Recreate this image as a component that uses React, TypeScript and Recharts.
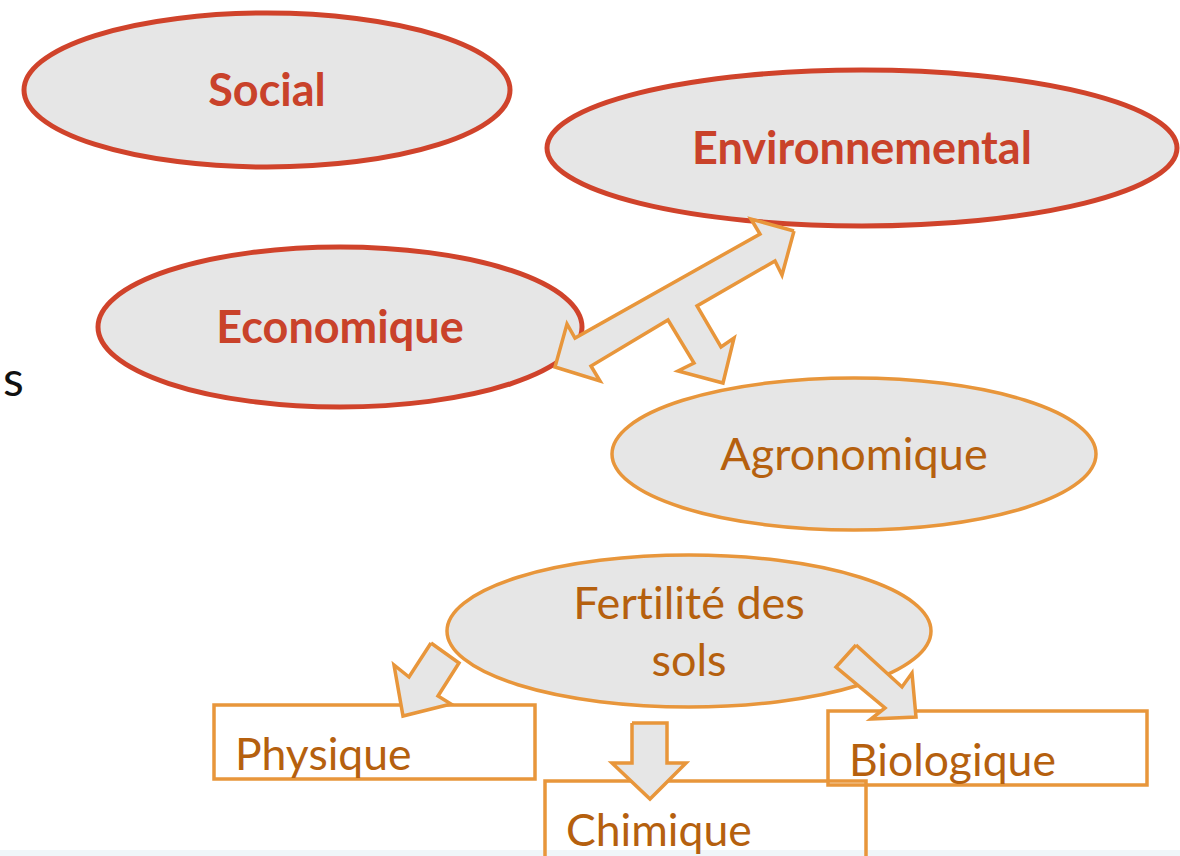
import React from "react";
import { ScatterChart, Scatter, XAxis, YAxis, ReferenceArea } from "recharts";

const W = 1180;
const H = 856;

// oval nodes: centre and half-axes, in page pixels
const ovalLabels = ["Social", "Environnemental", "Economique", "Agronomique", "Fertilité des|sols"];
const ovalX = [267, 862, 340, 854, 689];
const ovalY = [90, 148, 327, 454, 631];
const ovalRx = [243, 315, 242, 242, 242];
const ovalRy = [77, 78, 80, 76, 76];
const ovalLevel = ["pillar", "pillar", "pillar", "sub", "sub"];

// rectangular boxes
const boxLabels = ["Physique", "Chimique", "Biologique"];
const boxLeft = [214, 545, 828];
const boxTop = [705, 781, 711];
const boxRight = [535, 866, 1147];
const boxBottom = [779, 861, 785];

// block arrows, vertex lists (closed)
const tArrowX = [794, 782, 775, 697, 721, 734, 723, 678, 694, 668, 591, 600, 555, 567, 575, 760, 751, 794];
const tArrowY = [231, 275, 261, 306, 347, 338, 383, 371, 363, 320, 366, 381, 367, 324, 338, 234, 219, 231];
const physArrowX = [431, 459, 438, 451, 403, 394, 409, 431];
const physArrowY = [643, 663, 696, 704, 716, 665, 677, 643];
const chimArrowX = [632, 667, 667, 686, 650, 612, 632, 632];
const chimArrowY = [723, 723, 763, 763, 799, 763, 763, 723];
const bioArrowX = [856, 902, 912, 916, 871, 885, 836, 856];
const bioArrowY = [645, 687, 673, 717, 719, 708, 667, 645];

// text fragment cut at the left edge of the slide
const strayLabels = ["s"];
const strayX = [3];
const strayY = [396];

const RED = "#d0432b";
const RED_TEXT = "#c9422a";
const ORANGE = "#e8963b";
const ORANGE_TEXT = "#b5600e";
const GREY = "#e6e6e6";
const FONT = "Lato, 'Open Sans', sans-serif";
const noLig = { fontVariantLigatures: "none" as const, fontFeatureSettings: '"liga" 0, "clig" 0' };

const ovals = ovalLabels.map((label, i) => ({
  label,
  x: ovalX[i],
  y: ovalY[i],
  rx: ovalRx[i],
  ry: ovalRy[i],
  level: ovalLevel[i],
}));

const boxes = boxLabels.map((label, i) => ({ label, x: boxLeft[i], y: boxTop[i] }));

const toPoints = (xs: number[], ys: number[]) => xs.map((x, i) => ({ x, y: ys[i] }));
const arrows = [
  toPoints(tArrowX, tArrowY),
  toPoints(physArrowX, physArrowY),
  toPoints(chimArrowX, chimArrowY),
  toPoints(bioArrowX, bioArrowY),
];

const strays = strayLabels.map((label, i) => ({ label, x: strayX[i], y: strayY[i] }));

function OvalShape(props: any) {
  const { cx, cy, payload } = props;
  const pillar = payload.level === "pillar";
  const lines: string[] = payload.label.split("|");
  const first = lines.length > 1 ? cy - 12 : cy + 16;
  return (
    <g>
      <ellipse
        cx={cx}
        cy={cy}
        rx={payload.rx}
        ry={payload.ry}
        fill={GREY}
        stroke={pillar ? RED : ORANGE}
        strokeWidth={pillar ? 5 : 3.5}
      />
      {lines.map((t, k) => (
        <text
          key={k}
          x={cx}
          y={first + k * 57}
          textAnchor="middle"
          fontFamily={FONT}
          fontWeight={pillar ? 700 : 400}
          fontSize={pillar ? 45 : 45}
          fill={pillar ? RED_TEXT : ORANGE_TEXT}
          style={noLig}
        >
          {t}
        </text>
      ))}
    </g>
  );
}

function BoxText(props: any) {
  const { cx, cy, payload } = props;
  return (
    <text x={cx + 21} y={cy + 65} fontFamily={FONT} fontSize={44.5} fill={ORANGE_TEXT} style={noLig}>
      {payload.label}
    </text>
  );
}

function StrayText(props: any) {
  const { cx, cy, payload } = props;
  return (
    <text x={cx} y={cy} fontFamily={FONT} fontSize={48} fill="#111">
      {payload.label}
    </text>
  );
}

export default function App() {
  return (
    <div style={{ position: "absolute", left: 0, top: 0, width: W, height: H, background: "#fff", overflow: "hidden" }}>
      <ScatterChart width={W} height={H} margin={{ top: 0, right: 0, bottom: 0, left: 0 }}>
        <XAxis type="number" dataKey="x" domain={[0, W]} hide allowDataOverflow />
        <YAxis type="number" dataKey="y" domain={[0, H]} reversed hide allowDataOverflow />
        <ReferenceArea x1={0} x2={W} y1={850} y2={H} fill="#f0f6f9" fillOpacity={1} stroke="none" ifOverflow="visible" />
        <Scatter data={ovals} shape={OvalShape} isAnimationActive={false} />
        {arrows.map((pts, i) => (
          <Scatter
            key={i}
            data={pts}
            shape={() => <g />}
            line={{ stroke: ORANGE, strokeWidth: 3.5, fill: GREY, strokeLinejoin: "miter" }}
            lineJointType="linear"
            isAnimationActive={false}
          />
        ))}
        {boxLabels.map((b, i) => (
          <ReferenceArea
            key={b}
            x1={boxLeft[i]}
            x2={boxRight[i]}
            y1={boxTop[i]}
            y2={boxBottom[i]}
            fill="none"
            stroke={ORANGE}
            strokeWidth={3.5}
            ifOverflow="visible"
          />
        ))}
        <Scatter data={boxes} shape={BoxText} isAnimationActive={false} />
        <Scatter data={strays} shape={StrayText} isAnimationActive={false} />
      </ScatterChart>
    </div>
  );
}
